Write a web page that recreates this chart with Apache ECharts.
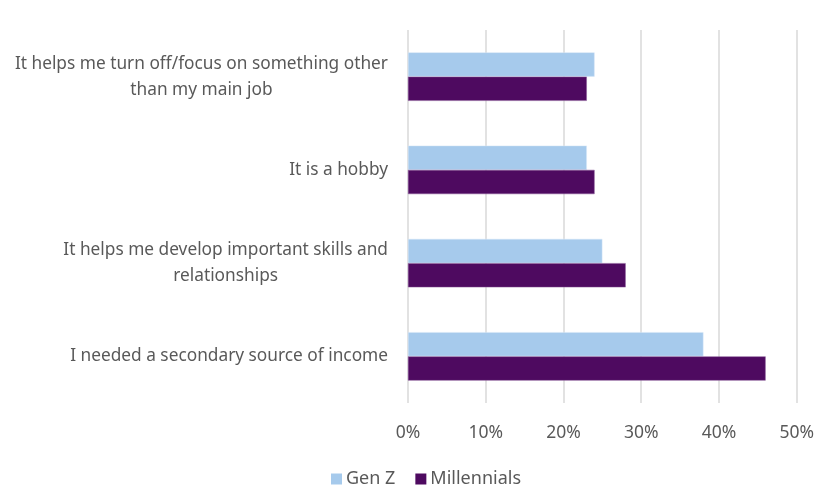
<!DOCTYPE html>
<html>
<head>
<meta charset="utf-8">
<script src="https://cdn.jsdelivr.net/npm/echarts@6/dist/echarts.min.js"></script>
<style>
html,body{margin:0;padding:0;background:#fff;}
#c{width:817px;height:487px;}
</style>
</head>
<body>
<div id="c"></div>
<script>
const categories = [
  "I needed a secondary source of income",
  "It helps me develop important skills and\nrelationships",
  "It is a hobby",
  "It helps me turn off/focus on something other\nthan my main job"
];
const genZ = [38, 25, 23, 24];
const millennials = [46, 28, 24, 23];
const xTicks = [0, 10, 20, 30, 40, 50];

const FONT = "Noto Sans";
const chart = echarts.init(document.getElementById('c'));
chart.setOption({
  animation: false,
  textStyle: { fontFamily: FONT },
  grid: { left: 408, right: 20, top: 30, bottom: 84, containLabel: false },
  legend: {
    data: ['Gen Z', 'Millennials'],
    left: 326, top: 465,
    itemWidth: 11, itemHeight: 11, itemGap: 20,
    icon: 'rect',
    itemStyle: { borderWidth: 0 },
    textStyle: { color: '#595959', fontSize: 18, fontFamily: FONT, padding: [0, 0, 0, -1] }
  },
  xAxis: {
    type: 'value', min: xTicks[0], max: xTicks[xTicks.length - 1], interval: 10,
    axisLine: { show: false }, axisTick: { show: false },
    splitLine: { lineStyle: { color: '#d9d9d9', width: 1.5 } },
    axisLabel: { formatter: '{value}%', color: '#595959', fontSize: 17.5, margin: 21, fontFamily: FONT }
  },
  yAxis: {
    type: 'category', data: categories,
    axisLine: { show: false }, axisTick: { show: false },
    axisLabel: {
      margin: 20, color: '#595959', fontSize: 17.3, fontFamily: FONT, lineHeight: 26,
      formatter: v => '{c|' + v + '}',
      rich: { c: { align: 'center', color: '#595959', fontSize: 17.3, fontFamily: FONT, lineHeight: 26 } }
    }
  },
  series: [
    { name: 'Gen Z', type: 'bar', data: genZ, barGap: '0%', barCategoryGap: '48%',
      itemStyle: { color: '#a6caec', borderColor: '#d6e6f6', borderWidth: 0.5 } },
    { name: 'Millennials', type: 'bar', data: millennials, barGap: '0%', barCategoryGap: '48%',
      itemStyle: { color: '#4e0a60', borderColor: '#8a5a98', borderWidth: 0.5 } }
  ]
});
</script>
</body>
</html>
